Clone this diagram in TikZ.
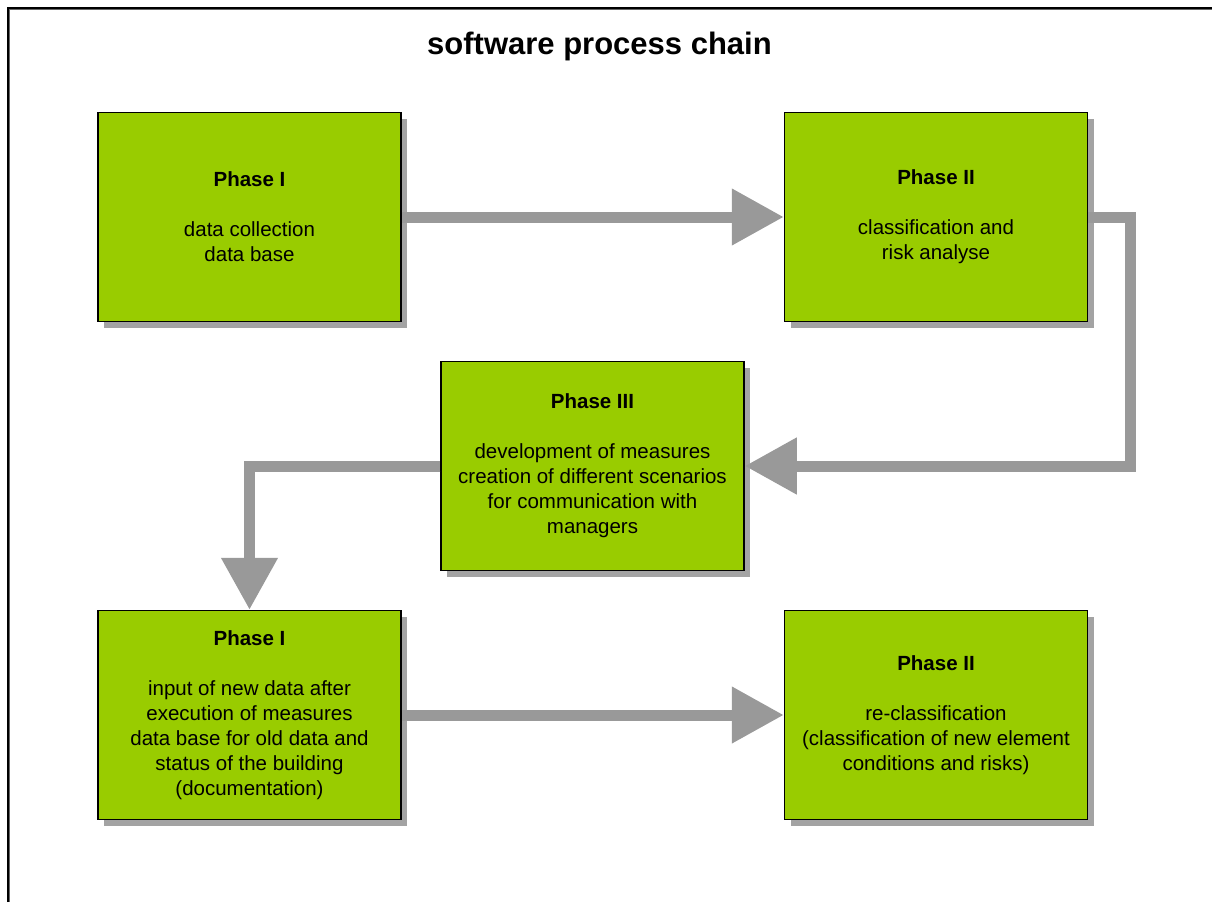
\documentclass[tikz,border=0pt]{standalone}
\usepackage{fontspec}
\setmainfont{Liberation Sans}
\usetikzlibrary{arrows.meta,shadows}
\definecolor{phasegreen}{RGB}{153,204,0}
\definecolor{flowgray}{RGB}{153,153,153}

\begin{document}
\begin{tikzpicture}[x=1pt,y=-1pt,
phase/.style={draw=black, line width=1.5pt, fill=phasegreen, minimum width=303pt, minimum height=209pt, align=center, font=\fontsize{20.5}{25}\selectfont, drop shadow={shadow xshift=6pt, shadow yshift=-6pt, fill=black!45, opacity=0.8}},
flow/.style={line width=11pt, color=flowgray, -{Triangle[length=52pt,width=54pt]}}]
\useasboundingbox (0,0) rectangle (1212,902);

% FRAME
\draw [line width=2.5pt] (8,902) -- (8,8) -- (1212,8);
\draw [black!60, line width=1.2pt] (9.8,902) -- (9.8,9.8) -- (1212,9.8);

\node [font=\fontsize{31}{36}\selectfont\bfseries] (title) at (599.5,46) {software process chain};

% PHASES
\node [phase] (phaseA) at (249.5,217) {\textbf{Phase I}\\[25pt]data collection\\data base};
\node [phase] (phaseB) at (936,217) {\textbf{Phase II}\\[25pt]classification and\\risk analyse};
\node [phase] (phaseC) at (592.5,466) {\textbf{Phase III}\\[25pt]development of measures\\creation of different scenarios\\for communication with\\managers};
\node [phase] (phaseD) at (249.5,715) {\textbf{Phase I}\\[25pt]input of new data after\\execution of measures\\data base for old data and\\status of the building\\(documentation)};
\node [phase] (phaseE) at (936,715) {\textbf{Phase II}\\[25pt]re-classification\\(classification of new element\\conditions and risks)};

% FLOW ARROWS
\coordinate (turnA) at (1130,217);
\coordinate (turnB) at (1130,466);
\draw [flow] (phaseA) -- (phaseB);
\draw [flow] (phaseB.east) -- (turnA) -- (turnB) -- (turnB -| phaseC.east);
\draw [flow] (phaseC.west |- turnB) -- (turnB -| phaseD.north) -- (phaseD.north);
\draw [flow] (phaseD) -- (phaseE);
\end{tikzpicture}
\end{document}
